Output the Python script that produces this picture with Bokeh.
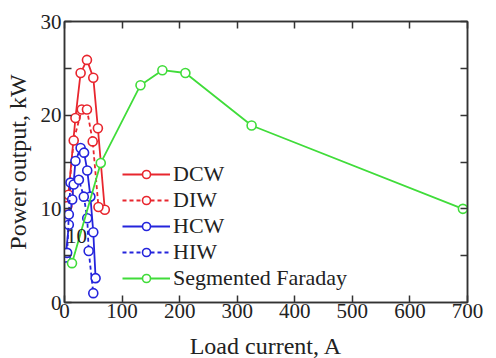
from bokeh.plotting import figure
from bokeh.models import (LinearAxis, FixedTicker, Range1d, Legend, LegendItem, Label)
from bokeh.embed import file_html
from bokeh.resources import INLINE

# ---- data ----
dcw_x = [5, 19, 28, 39, 50, 58, 70]
dcw_y = [10.3, 19.7, 24.5, 25.9, 24.0, 18.6, 9.9]

diw_x = [7, 16, 30, 39, 49, 59]
diw_y = [11.5, 17.3, 20.6, 20.6, 17.2, 10.2]

hcw_x = [2, 7.5, 13.4, 19, 28, 34, 39.5, 45, 50, 54]
hcw_y = [4.8, 8.3, 11.0, 15.1, 16.5, 16.0, 14.1, 11.3, 7.5, 2.6]

hiw_x = [4.6, 7.5, 10.4, 16, 25, 33.5, 39.5, 42, 50]
hiw_y = [5.3, 9.4, 12.8, 12.6, 13.1, 11.3, 9.0, 5.5, 1.0]

seg_x = [13, 63, 132, 170, 210, 325, 692]
seg_y = [4.2, 14.9, 23.2, 24.8, 24.5, 18.9, 10.0]

x_ticks = [0, 100, 200, 300, 400, 500, 600, 700]
y_ticks = [0, 10, 20, 30]
y_minor = [5, 15, 25]

RED = "#e8262e"
BLUE = "#2424dc"
GREEN = "#40dc3a"
FONT = "Liberation Serif"
AX = "#333333"

p = figure(frame_width=403, frame_height=281, output_backend="svg", toolbar_location=None,
           x_range=Range1d(0, 700), y_range=Range1d(0, 30),
           min_border_left=64, min_border_right=25, min_border_top=21, min_border_bottom=0,
           x_axis_label="Load current, A", y_axis_label="Power output, kW")
p.grid.visible = False
p.background_fill_color = "white"
p.border_fill_color = "white"
p.outline_line_color = AX
p.outline_line_width = 1.5

def style_axis(ax):
    ax.axis_line_color = AX
    ax.axis_line_width = 1.5
    ax.major_tick_line_color = AX
    ax.minor_tick_line_color = AX
    ax.major_tick_line_width = 1.5
    ax.minor_tick_line_width = 1.5
    ax.major_tick_in = 7
    ax.major_tick_out = 0
    ax.minor_tick_in = 7
    ax.minor_tick_out = 0
    ax.major_label_text_font = FONT
    ax.major_label_text_font_size = "21px"
    ax.major_label_text_color = "#222222"
    ax.major_label_standoff = 1
    ax.axis_label_text_font = FONT
    ax.axis_label_text_font_style = "normal"
    ax.axis_label_text_color = "#222222"
    ax.axis_label_text_font_size = "24px"

p.xaxis.ticker = FixedTicker(ticks=x_ticks)
p.yaxis.ticker = FixedTicker(ticks=y_ticks, minor_ticks=y_minor)
style_axis(p.xaxis[0])
style_axis(p.yaxis[0])
p.xaxis.axis_label_standoff = 12
p.yaxis.axis_label_standoff = 7
p.yaxis.major_label_standoff = 3

top = LinearAxis(ticker=FixedTicker(ticks=x_ticks),
                 major_label_overrides={t: "" for t in x_ticks})
style_axis(top)
top.major_label_standoff = 0
p.add_layout(top, "above")
right = LinearAxis(ticker=FixedTicker(ticks=y_ticks, minor_ticks=y_minor),
                   major_label_overrides={t: "" for t in y_ticks})
style_axis(right)
right.major_label_standoff = 0
p.add_layout(right, "right")

# stray "10" text inside the plot
p.add_layout(Label(x=21, y=7.15, text="10", text_font=FONT, text_font_size="21px",
                   text_color="#222222", text_align="center", text_baseline="middle"))

def series(xs, ys, color, dash):
    r1 = p.line(xs, ys, line_color=color, line_width=1.8, line_dash=dash)
    r2 = p.scatter(xs, ys, marker="circle", size=9, line_color=color, line_width=1.6,
                   fill_color="white")
    return [r1, r2]

items = [
    LegendItem(label="DCW", renderers=series(dcw_x, dcw_y, RED, "solid")),
    LegendItem(label="DIW", renderers=series(diw_x, diw_y, RED, "4 3")),
    LegendItem(label="HCW", renderers=series(hcw_x, hcw_y, BLUE, "solid")),
    LegendItem(label="HIW", renderers=series(hiw_x, hiw_y, BLUE, "4 3")),
    LegendItem(label="Segmented Faraday", renderers=series(seg_x, seg_y, GREEN, "solid")),
]
leg = Legend(items=items, location=(58, 11), background_fill_alpha=0,
             border_line_alpha=0, padding=0, margin=0, spacing=-5,
             label_text_font=FONT, label_text_font_size="22px",
             label_text_color="#222222", label_height=20, glyph_height=20,
             glyph_width=48, label_standoff=3)
p.add_layout(leg, "center")

open("out.html", "w").write(file_html(p, INLINE))
